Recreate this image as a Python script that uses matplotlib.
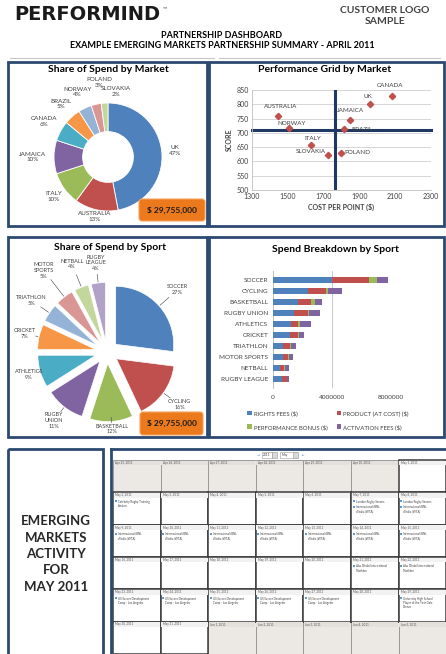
#%% Libraries

import numpy as np
import matplotlib
matplotlib.use('Agg')
from matplotlib import pyplot as plt
from matplotlib.patches import Rectangle, FancyBboxPatch
from datetime import date, timedelta

plt.rcParams['font.family'] = ['Lato', 'DejaVu Sans']

#%% Data

market_names = ['UK', 'AUSTRALIA', 'ITALY', 'JAMAICA', 'CANADA', 'BRAZIL', 'NORWAY', 'POLAND', 'SLOVAKIA']
market_share = [47, 13, 10, 10, 6, 5, 4, 3, 2]  # [%]

grid_names     = ['CANADA', 'UK', 'AUSTRALIA', 'JAMAICA', 'NORWAY', 'BRAZIL', 'ITALY', 'POLAND', 'SLOVAKIA']
cost_per_point = [2080, 1960, 1445, 1845, 1505, 1815, 1630, 1795, 1725]  # [$]
score          = [830, 800, 760, 745, 716, 712, 656, 629, 621]
cost_mid       = 1765
score_mid      = 710

sports      = ['SOCCER', 'CYCLING', 'BASKETBALL', 'RUGBY UNION', 'ATHLETICS', 'CRICKET',
               'TRIATHLON', 'MOTOR SPORTS', 'NETBALL', 'RUGBY LEAGUE']
sport_share = [27, 16, 12, 11, 9, 7, 5, 5, 4, 4]  # [%]

rights_fees  = [4000000, 2380000, 1710000, 1440000, 1220000, 1180000, 710000, 710000, 490000, 600000]
product_cost = [2490000, 1220000, 850000, 930000, 490000, 530000, 450000, 330000, 240000, 360000]
perf_bonus   = [550000, 110000, 270000, 90000, 110000, 70000, 70000, 70000, 90000, 20000]
activation   = [780000, 960000, 510000, 710000, 780000, 330000, 330000, 270000, 290000, 130000]
spend_labels = ['RIGHTS FEES ($)', 'PRODUCT (AT COST) ($)', 'PERFORMANCE BONUS ($)', 'ACTIVATION FEES ($)']

total_spend = '$ 29,755,000'

cal_start = date(2011, 4, 25)
events = {
    date(2011, 5, 2):  ['Celebrity Rugby Training\nSession'],
    date(2011, 5, 7):  ['London Rugby Sevens', "Internazionali BNL\nd'Italia (WTA)"],
    date(2011, 5, 8):  ['London Rugby Sevens', "Internazionali BNL\nd'Italia (WTA)"],
    date(2011, 5, 9):  ["Internazionali BNL\nd'Italia (WTA)"],
    date(2011, 5, 10): ["Internazionali BNL\nd'Italia (WTA)"],
    date(2011, 5, 11): ["Internazionali BNL\nd'Italia (WTA)"],
    date(2011, 5, 12): ["Internazionali BNL\nd'Italia (WTA)"],
    date(2011, 5, 13): ["Internazionali BNL\nd'Italia (WTA)"],
    date(2011, 5, 14): ["Internazionali BNL\nd'Italia (WTA)"],
    date(2011, 5, 15): ["Internazionali BNL\nd'Italia (WTA)"],
    date(2011, 5, 21): ['Abu Dhabi International\nTriathlon'],
    date(2011, 5, 22): ['Abu Dhabi International\nTriathlon'],
    date(2011, 5, 23): ['US Soccer Development\nCamp - Los Angeles'],
    date(2011, 5, 24): ['US Soccer Development\nCamp - Los Angeles'],
    date(2011, 5, 25): ['US Soccer Development\nCamp - Los Angeles'],
    date(2011, 5, 26): ['US Soccer Development\nCamp - Los Angeles'],
    date(2011, 5, 27): ['US Soccer Development\nCamp - Los Angeles'],
    date(2011, 5, 29): ['University High School\nPlayer of the Year Gala\nDinner'],
}

#%% Styling

W, H = 446, 654
office = ['#4F81BD', '#C0504D', '#9BBB59', '#8064A2', '#4BACC6', '#F79646',
          '#95B3D7', '#D99694', '#C3D69B', '#B3A2C7']
navy  = '#2B4A72'
grey  = '#404040'

# label distances (in pie radii) for the two pies
market_label_r = [1.25, 1.13, 1.25, 1.39, 1.36, 1.31, 1.33, 1.40, 1.24]
sport_label_r  = [1.62, 1.55, 1.33, 1.50, 1.40, 1.46, 1.58, 1.78, 1.63, 1.55]

def rect(x0, y0, x1, y1):
    return [x0/W, 1-y1/H, (x1-x0)/W, (y1-y0)/H]

fig = plt.figure(figsize=(W/100, H/100), dpi=100)

bg = fig.add_axes([0, 0, 1, 1], zorder=0)
bg.set_xlim(0, W)
bg.set_ylim(H, 0)
bg.axis('off')

fg = fig.add_axes([0, 0, 1, 1], zorder=10)
fg.set_xlim(0, W)
fg.set_ylim(H, 0)
fg.axis('off')
fg.patch.set_alpha(0)

#%% Header

bg.text(14, 15, 'PERFORMIND', fontsize=14, fontweight='heavy', family=['DejaVu Sans'],
        color='#1A1A1A', va='center', ha='left')
bg.text(163, 9, '\u2122', fontsize=4, color='#555555', va='center')
bg.text(385, 16, 'CUSTOMER LOGO\nSAMPLE', fontsize=7.5, fontweight='bold', color=grey,
        ha='center', va='center', linespacing=1.3)
bg.text(222, 35, 'PARTNERSHIP DASHBOARD', fontsize=6.5, fontweight='bold', ha='center', va='center')
bg.text(222, 45, 'EXAMPLE EMERGING MARKETS PARTNERSHIP SUMMARY - APRIL 2011', fontsize=6.5,
        fontweight='bold', ha='center', va='center')
bg.plot([10, 214], [58, 58], color='#C8C8C8', lw=0.8)
bg.plot([219, 440], [58, 58], color='#C8C8C8', lw=0.8)

# Panel borders

for x0, y0, x1, y1 in [(8, 62, 207, 226), (209, 62, 444, 226), (8, 237, 207, 437),
                       (209, 237, 444, 437), (8, 449, 103, 662)]:
    fg.add_patch(Rectangle((x0, y0), x1-x0, y1-y0, fill=False, edgecolor=navy, lw=2))

#%% Share of Spend by Market (donut)

bg.text(108, 70, 'Share of Spend by Market', fontsize=7.5, fontweight='bold', ha='center', va='center')

ax1 = fig.add_axes(rect(28, 77, 188, 237))
ax1.patch.set_alpha(0)
wedges, _ = ax1.pie(market_share, colors=office[:len(market_share)], startangle=90,
                    counterclock=False, wedgeprops=dict(width=0.53, edgecolor='white', linewidth=0.6))
mtexts = []
for w, n, v, d in zip(wedges, market_names, market_share, market_label_r):
    a = np.deg2rad((w.theta1+w.theta2)/2)
    mtexts.append(ax1.text(d*np.cos(a), d*np.sin(a), '%s\n%d%%' % (n, v), fontsize=4.5,
                           color=grey, ha='center', va='center'))
mtexts[7].set_position((-0.17, 1.38))
mtexts[8].set_position((0.14, 1.22))
ax1.set_xlim(-80/54, 80/54)
ax1.set_ylim(-80/54, 80/54)
ax1.set_aspect('equal')

fg.add_patch(FancyBboxPatch((139, 199), 66, 22, boxstyle='round,pad=0,rounding_size=3',
                            facecolor='#EC7A1C', edgecolor='#F5A25D', lw=0.8))
fg.text(172, 210, total_spend, fontsize=6, fontweight='bold', color='#1A1A1A', ha='center', va='center')

#%% Performance Grid by Market (scatter)

bg.text(325, 70, 'Performance Grid by Market', fontsize=7.5, fontweight='bold', ha='center', va='center')

ax2 = fig.add_axes(rect(252, 90, 431, 190))
ax2.plot(cost_per_point, score, 'D', color='#C0504D', markersize=3.2, zorder=3)
ax2.axvline(cost_mid, color='#1F3864', lw=2.2, zorder=2)
ax2.axhline(score_mid, color='#1F3864', lw=2.2, zorder=2, clip_on=False)
ax2.set_xlim(1300, 2300)
ax2.set_ylim(500, 850)
ax2.set_xticks(np.arange(1300, 2301, 200))
ax2.set_yticks(np.arange(500, 851, 50))
ax2.tick_params(labelsize=5, length=0, colors=grey, pad=2)
ax2.grid(axis='y', color='#D0D0D0', lw=0.6)
ax2.set_axisbelow(True)
for s in ['top', 'right']:
    ax2.spines[s].set_visible(False)
for s in ['left', 'bottom']:
    ax2.spines[s].set_color('#BFBFBF')
    ax2.spines[s].set_linewidth(0.6)
ax2.set_xlabel('COST PER POINT ($)', fontsize=5, fontweight='bold', color=grey, labelpad=3)
ax2.set_ylabel('SCORE', fontsize=5, fontweight='bold', color=grey, labelpad=3)

offsets = {'CANADA': (-2, 10, 'center'), 'UK': (-2, 8, 'center'), 'AUSTRALIA': (3, 9, 'center'),
           'JAMAICA': (1, 10, 'center'), 'NORWAY': (3, 5, 'center'), 'BRAZIL': (7, 0, 'left'),
           'ITALY': (2, 7, 'center'), 'SLOVAKIA': (-2, 4, 'right'), 'POLAND': (4, 1, 'left')}
for n, xv, yv in zip(grid_names, cost_per_point, score):
    dx, dy, ha = offsets[n]
    ax2.annotate(n, (xv, yv), xytext=(dx*0.72, dy*0.72), textcoords='offset points',
                 fontsize=4.5, color=grey, ha=ha, va='center')

#%% Share of Spend by Sport (exploded pie)

bg.text(110, 248, 'Share of Spend by Sport', fontsize=7.5, fontweight='bold', ha='center', va='center')

ax3 = fig.add_axes(rect(12, 257, 202, 447))
ax3.patch.set_alpha(0)
wedges, _ = ax3.pie(sport_share, colors=office, startangle=90, counterclock=False,
                    explode=[0.2]*len(sport_share), wedgeprops=dict(edgecolor='white', linewidth=0.5))
for w, n, v, d in zip(wedges, sports, sport_share, sport_label_r):
    a = np.deg2rad((w.theta1+w.theta2)/2)
    ax3.text(d*np.cos(a), d*np.sin(a), '%s\n%d%%' % (n.replace(' ', '\n'), v), fontsize=4.0,
             color=grey, ha='center', va='center', linespacing=1.2)
    ax3.plot([1.22*np.cos(a), (d-0.2)*np.cos(a)], [1.22*np.sin(a), (d-0.2)*np.sin(a)],
             color=grey, lw=0.4)
ax3.set_xlim(-95/58, 95/58)
ax3.set_ylim(-95/58, 95/58)
ax3.set_aspect('equal')

fg.add_patch(FancyBboxPatch((140, 412), 63, 23, boxstyle='round,pad=0,rounding_size=3',
                            facecolor='#EC7A1C', edgecolor='#F5A25D', lw=0.8))
fg.text(171.5, 423.5, total_spend, fontsize=6, fontweight='bold', color='#1A1A1A', ha='center', va='center')

#%% Spend Breakdown by Sport (stacked bars)

bg.text(335, 249, 'Spend Breakdown by Sport', fontsize=7.5, fontweight='bold', ha='center', va='center')

ax4 = fig.add_axes(rect(273, 271, 391, 388))
y = np.arange(len(sports))
left = np.zeros(len(sports))
for vals, col, lab in zip([rights_fees, product_cost, perf_bonus, activation], office[:4], spend_labels):
    ax4.barh(y, vals, left=left, height=0.62, color=col, label=lab, zorder=3)
    left += np.array(vals)
ax4.set_ylim(9.82, -0.82)
ax4.set_xlim(0, 8000000)
ax4.set_xticks([0, 4000000, 8000000])
ax4.set_xticklabels(['0', '4000000', '8000000'])
ax4.set_yticks(y)
ax4.set_yticklabels(sports)
ax4.tick_params(labelsize=4.6, length=0, colors=grey)
ax4.tick_params(axis='x', pad=5)
ax4.grid(axis='x', color='#BFBFBF', lw=0.6)
for s in ['top', 'right', 'bottom']:
    ax4.spines[s].set_visible(False)
ax4.spines['left'].set_color('#BFBFBF')
ax4.spines['left'].set_linewidth(0.6)

h, l = ax4.get_legend_handles_labels()
order = [0, 2, 1, 3]  # legend fills column-wise: put rows as in the original
fig.legend([h[i] for i in order], [l[i] for i in order], loc='center',
           bbox_to_anchor=(328/W, 1-420/H), ncol=2, fontsize=4.3,
           frameon=False, handlelength=0.8, handleheight=0.8, handletextpad=0.3,
           columnspacing=1.5, labelspacing=1.3, labelcolor=grey)

#%% Activity text box

bg.text(56, 554, 'EMERGING\nMARKETS\nACTIVITY\nFOR\nMAY 2011', fontsize=9.5, fontweight='bold',
        color='#262626', ha='center', va='center', linespacing=1.45)

#%% Calendar

cal_x0, cal_y0 = 113, 460
col_w, row_h   = 47.6, 32.3

fg.plot([111, 446], [449, 449], color=navy, lw=2)
fg.plot([111, 111], [449, 660], color=navy, lw=2)

# navigation bar
bg.text(258, 455, '\u25c4', fontsize=2.5, color='#7FA7D6', ha='center', va='center')
bg.add_patch(Rectangle((262, 452), 10, 6, facecolor='white', edgecolor='#999999', lw=0.4))
bg.text(267, 455, '2011', fontsize=2.3, color=grey, ha='center', va='center')
bg.add_patch(Rectangle((272, 452), 5, 6, facecolor='#D9D9D9', edgecolor='#999999', lw=0.4))
bg.add_patch(Rectangle((280, 452), 16, 6, facecolor='white', edgecolor='#999999', lw=0.4))
bg.text(282, 455, 'May', fontsize=2.3, color=grey, ha='left', va='center')
bg.add_patch(Rectangle((293, 452), 5, 6, facecolor='#D9D9D9', edgecolor='#999999', lw=0.4))
bg.text(303, 455, '\u25ba', fontsize=2.5, color='#7FA7D6', ha='center', va='center')

days = [cal_start + timedelta(days=i) for i in range(42)]
for inside in [False, True]:
    for i, d in enumerate(days):
        if (d.month == 5) != inside:
            continue
        r, c = divmod(i, 7)
        x = cal_x0 + c*col_w
        yy = cal_y0 + r*row_h
        bg.add_patch(Rectangle((x, yy), col_w, row_h, facecolor='white' if inside else '#ECE9E4',
                               edgecolor='#3C3C3C' if inside else '#9A9A9A',
                               lw=1.1 if inside else 0.7, zorder=2 if inside else 1))
        bg.add_patch(Rectangle((x+0.6, yy+0.6), col_w-1.2, 4.8, facecolor='#F2F2F2' if inside else '#E4E1DC',
                               edgecolor='none', zorder=3))
        bg.text(x+2, yy+3, '%s %d, 2011' % (d.strftime('%b'), d.day), fontsize=2.2,
                color='#595959', ha='left', va='center', zorder=4)
        ey = yy + 9
        for ev in events.get(d, []):
            bg.add_patch(Rectangle((x+1.6, ey-1), 2, 2, facecolor='#5B9BD5', edgecolor='none', zorder=4))
            bg.text(x+4.5, ey-1.5, ev, fontsize=2.1, color='#404040', ha='left', va='top',
                    linespacing=1.1, zorder=4)
            ey += 3.6*(ev.count('\n')+1) + 2

fig.savefig('out.png', dpi=100)
